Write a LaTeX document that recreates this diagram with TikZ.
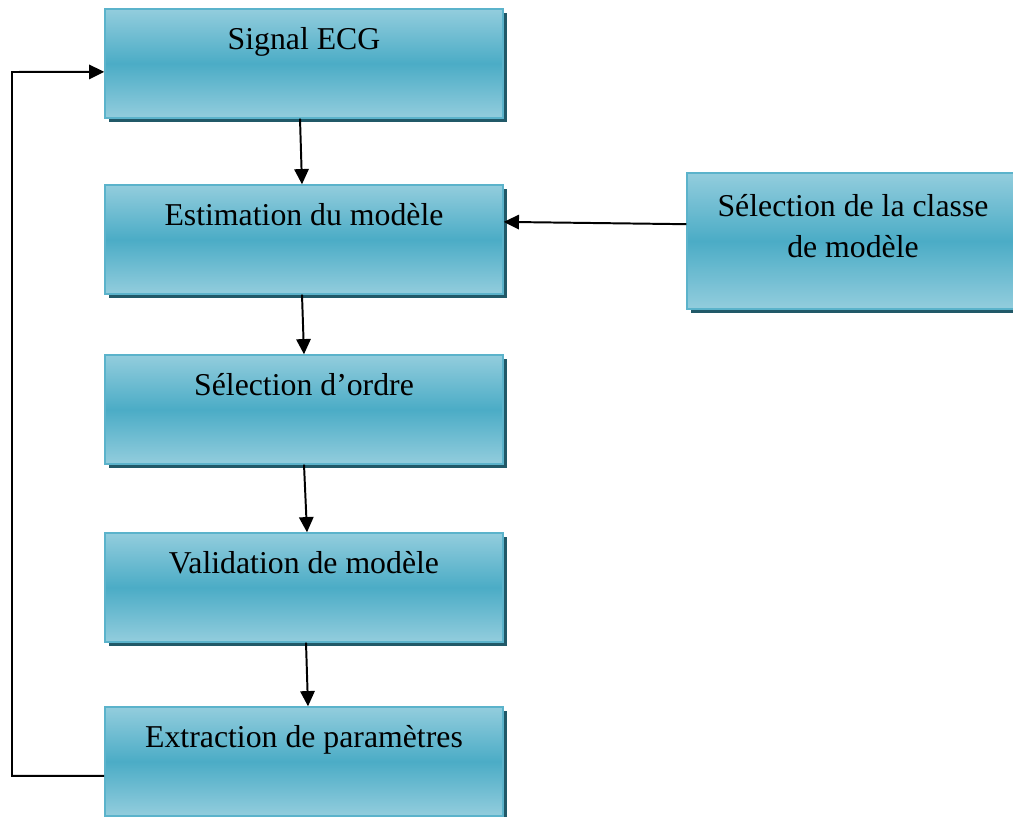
\documentclass[tikz,border=0pt]{standalone}
\usepackage{fontspec}
\setmainfont{Liberation Serif}
\usepackage{tikz}
\usetikzlibrary{arrows.meta,shadows}
\definecolor{boxlight}{HTML}{93CDDD}
\definecolor{boxmid}{HTML}{4BACC6}
\definecolor{boxline}{HTML}{5BB3CB}
\definecolor{boxshadow}{HTML}{215968}

\begin{document}
\begin{tikzpicture}[x=0.025cm,y=0.025cm,
  etape/.style={rectangle, draw=boxline, line width=1pt,
    top color=boxlight, bottom color=boxlight, middle color=boxmid,
    drop shadow={shadow xshift=0.1cm, shadow yshift=-0.1cm, fill=boxshadow, opacity=1},
    minimum width=9.95cm, minimum height=2.725cm, inner sep=0pt,
    text height=1.025cm, text depth=1.7cm,
    font=\fontsize{22.6}{29.2}\selectfont},
  fleche/.style={-{Triangle[length=0.38cm,width=0.36cm]}, line width=1.4pt}]
\useasboundingbox (0,0) rectangle (1013,816);
\node[etape] (signal) at (304,752.5) {Signal ECG};
\node[etape] (estim) at (304,576.5) {Estimation du modèle};
\node[etape] (ordre) at (304,406.5) {Sélection d’ordre};
\node[etape] (valid) at (304,228.5) {Validation de modèle};
\node[etape] (extr) at (304,54.5) {Extraction de paramètres};
\node[etape, align=center, minimum width=8.3cm, minimum height=3.4cm,
  text height=2.125cm, text depth=1.275cm] (classe) at (853,575)
  {Sélection de la classe\\de modèle};
\coordinate (retour) at (12,744);
\draw[fleche] ([xshift=-0.1cm]signal.south) -- ([xshift=-0.05cm]estim.north);
\draw[fleche] ([xshift=-0.05cm]estim.south) -- (ordre.north);
\draw[fleche] (ordre.south) -- ([xshift=0.075cm]valid.north);
\draw[fleche] ([xshift=0.05cm]valid.south) -- ([xshift=0.1cm]extr.north);
\draw[fleche] ([yshift=0.42cm]classe.west) -- ([yshift=0.44cm]estim.east);
\draw[fleche] ([yshift=-0.36cm]extr.west) -| (retour) -- ([yshift=-0.21cm]signal.west);
\end{tikzpicture}
\end{document}
